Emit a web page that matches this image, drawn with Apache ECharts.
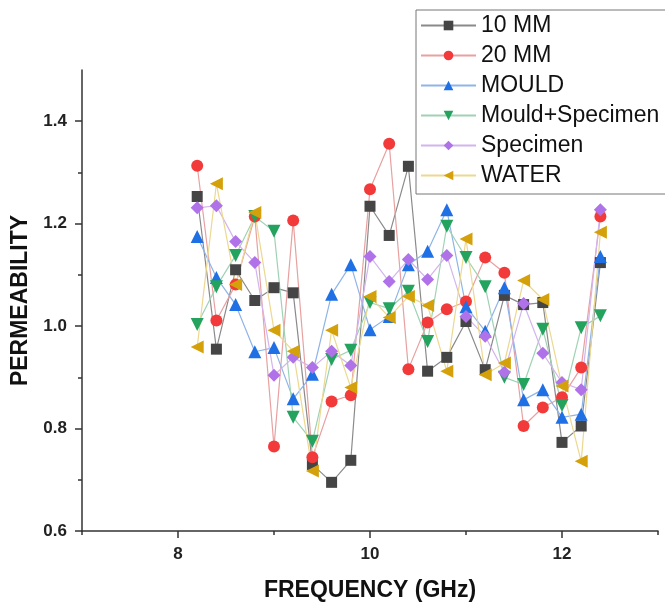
<!DOCTYPE html>
<html><head><meta charset="utf-8">
<script src="https://cdn.jsdelivr.net/npm/echarts@6/dist/echarts.min.js"></script>
<style>html,body{margin:0;padding:0;background:#fff}#c{width:665px;height:607px}</style>
</head><body><div id="c"></div>
<script>
const freq = [8.2,8.4,8.6,8.8,9.0,9.2,9.4,9.6,9.8,10.0,10.2,10.4,10.6,10.8,11.0,11.2,11.4,11.6,11.8,12.0,12.2,12.4];
const mm10 = [1.253,0.955,1.11,1.05,1.075,1.065,0.73,0.695,0.738,1.234,1.177,1.312,0.912,0.939,1.009,0.915,1.06,1.042,1.046,0.773,0.805,1.124];
const mm20 = [1.313,1.011,1.081,1.214,0.765,1.206,0.744,0.853,0.865,1.267,1.356,0.916,1.007,1.033,1.048,1.134,1.104,0.805,0.841,0.861,0.919,1.214];
const mould = [1.175,1.095,1.042,0.95,0.958,0.858,0.906,1.062,1.12,0.993,1.019,1.12,1.146,1.227,1.038,0.99,1.075,0.856,0.876,0.822,0.828,1.136];
const mouldSpec = [1.003,1.077,1.138,1.214,1.185,0.822,0.775,0.935,0.953,1.046,1.034,1.068,0.97,1.195,1.134,1.077,0.9,0.886,0.994,0.845,0.997,1.02];
const specimen = [1.231,1.235,1.165,1.124,0.904,0.939,0.919,0.951,0.923,1.136,1.087,1.13,1.091,1.138,1.019,0.98,0.91,1.044,0.947,0.89,0.876,1.227];
const water = [0.959,1.278,1.081,1.222,0.992,0.951,0.717,0.992,0.88,1.058,1.017,1.058,1.04,0.912,1.17,0.905,0.928,1.089,1.052,0.883,0.736,1.183];
const seriesNames = ['10 MM','20 MM','MOULD','Mould+Specimen','Specimen','WATER'];
const xMajorTicks = [8,10,12];
const xMinorTicks = [7,9,11,13];
const yMajorTicks = [0.6,0.8,1.0,1.2,1.4];
const yMinorTicks = [0.7,0.9,1.1,1.3];

const seriesData = [mm10, mm20, mould, mouldSpec, specimen, water];
const colors = ['#454545','#f23a3a','#1f6fe5','#24a35f','#b072e8','#d4a10a'];
const lineColors = ['#8a8a8a','#e8a0a0','#8fb4e8','#9fd2b4','#d2b4ee','#ecd890'];
const symbols = ['rect','circle','triangle','triangle','diamond','triangle'];
const rotates = [0,0,0,180,0,90];
const sizes = [11,12,13,13,13,13];
const FONT = 'Liberation Sans, Arial, sans-serif';

const chart = echarts.init(document.getElementById('c'), null, {renderer:'canvas'});
const series = seriesNames.map((n,i)=>({
  name:n, type:'line',
  data: freq.map((f,j)=>[f, seriesData[i][j]]),
  symbol: symbols[i], symbolRotate: rotates[i], symbolSize: sizes[i],
  showAllSymbol:true,
  itemStyle:{color:colors[i]},
  lineStyle:{color:lineColors[i], width:1.2},
  emphasis:{disabled:true},
  animation:false
}));
const axisFont = {fontFamily:FONT, fontWeight:'bold', fontSize:17, color:'#222'};
const nameFont = {fontFamily:FONT, fontWeight:'bold', fontSize:23, color:'#111'};
const axLine = {color:'#333', width:1.5};
chart.setOption({
  animation:false,
  grid:{left:82, right:7, top:70, bottom:76, outerBoundsMode:'none', containLabel:false},
  legend:{
    orient:'vertical', left:416, top:10,
    data: seriesNames,
    itemWidth:55, itemHeight:12, itemGap:7,
    padding:[4,40,7,4],
    borderColor:'#777', borderWidth:1,
    textStyle:{fontFamily:FONT, fontSize:23, color:'#111'}
  },
  xAxis:[{
    type:'value', min:7, max:13,
    name:'FREQUENCY (GHz)', nameLocation:'middle', nameGap:48,
    nameTextStyle:nameFont,
    axisLine:{onZero:false, lineStyle:axLine},
    axisTick:{show:true, length:7, customValues:xMajorTicks, lineStyle:axLine},
    axisLabel:Object.assign({margin:15, customValues:xMajorTicks}, axisFont),
    splitLine:{show:false}
  },{
    type:'value', min:7, max:13, position:'bottom',
    axisLine:{show:false},
    axisTick:{show:true, length:4, customValues:xMinorTicks, lineStyle:axLine},
    axisLabel:{show:false},
    splitLine:{show:false}
  }],
  yAxis:[{
    type:'value', min:0.6, max:1.5,
    name:'PERMEABILITY', nameLocation:'middle', nameGap:44,
    nameTextStyle:nameFont,
    axisLine:{show:true, onZero:false, lineStyle:axLine},
    axisTick:{show:true, length:7, customValues:yMajorTicks, lineStyle:axLine},
    axisLabel:Object.assign({margin:15, customValues:yMajorTicks, formatter:v=>v.toFixed(1)}, axisFont),
    splitLine:{show:false}
  },{
    type:'value', min:0.6, max:1.5, position:'left',
    axisLine:{show:false},
    axisTick:{show:true, length:4, customValues:yMinorTicks, lineStyle:axLine},
    axisLabel:{show:false},
    splitLine:{show:false}
  }],
  series: series
});
</script></body></html>
